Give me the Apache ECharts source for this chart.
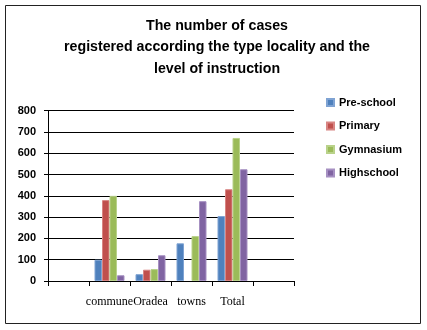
<!DOCTYPE html>
<html>
<head>
<meta charset="utf-8">
<script src="https://cdn.jsdelivr.net/npm/echarts@6/dist/echarts.min.js"></script>
<style>html,body{margin:0;padding:0;background:#fff;}#c{width:427px;height:330px;}</style>
</head>
<body>
<div id="c"></div>
<script>
var categories = ['', 'commune', 'Oradea', 'towns', 'Total', ''];
var seriesNames = ['Pre-school', 'Primary', 'Gymnasium', 'Highschool'];
var preschool = [null, 100, 32, 177, 305, null];
var primary = [null, 380, 53, null, 431, null];
var gymnasium = [null, 400, 56, 211, 672, null];
var highschool = [null, 27, 121, 375, 525, null];
var yTicks = [0, 100, 200, 300, 400, 500, 600, 700, 800];
var titleText = 'The number of cases\nregistered according the type locality and the\nlevel of instruction';

var colors = ['#4F81BD', '#C0504D', '#9BBB59', '#8064A2'];
var borders = ['#7FA3D3', '#D88583', '#B9D28A', '#A690C2'];
var values = [preschool, primary, gymnasium, highschool];

var chart = echarts.init(document.getElementById('c'), null, {renderer: 'canvas'});
var series = values.map(function (v, i) {
  return {
    name: seriesNames[i],
    type: 'bar',
    data: v,
    barWidth: 7.5,
    barGap: '0%',
    itemStyle: {color: colors[i], borderColor: borders[i], borderWidth: 1},
    emphasis: {disabled: true}
  };
});

chart.setOption({
  animation: false,
  backgroundColor: '#fff',
  color: colors,
  title: {
    text: titleText,
    left: 212,
    textAlign: 'center',
    top: 10,
    textStyle: {fontFamily: 'Liberation Sans', fontWeight: 'bold', fontSize: 14.2, lineHeight: 21.5, color: '#000'}
  },
  graphic: [{
    type: 'rect',
    shape: {x: 5.5, y: 5.5, width: 415, height: 318},
    style: {fill: 'none', stroke: '#222', lineWidth: 1},
    silent: true
  }],
  legend: {
    orient: 'vertical',
    left: 321,
    top: 91,
    itemWidth: 7,
    itemHeight: 7,
    itemGap: 10.5,
    icon: 'rect',
    data: seriesNames,
    textStyle: {fontFamily: 'Liberation Sans', fontWeight: 'bold', fontSize: 11, color: '#000', lineHeight: 13}
  },
  grid: {left: 48, right: 133, top: 110.7, bottom: 49, containLabel: false},
  xAxis: {
    type: 'category',
    data: categories,
    axisLine: {lineStyle: {color: '#000', width: 1}},
    axisTick: {show: true, length: 5, lineStyle: {color: '#000'}, alignWithLabel: false},
    axisLabel: {interval: 0, margin: 15, fontFamily: 'Liberation Serif', fontSize: 12, color: '#000'}
  },
  yAxis: {
    type: 'value',
    min: yTicks[0],
    max: yTicks[yTicks.length - 1],
    interval: 100,
    axisLine: {show: true, lineStyle: {color: '#000', width: 1}},
    axisTick: {show: true, length: 4, lineStyle: {color: '#000'}},
    axisLabel: {margin: 12, fontFamily: 'Liberation Sans', fontWeight: 'bold', fontSize: 11, color: '#000'},
    splitLine: {show: true, lineStyle: {color: '#000', width: 1}}
  },
  series: series
});
</script>
</body>
</html>
